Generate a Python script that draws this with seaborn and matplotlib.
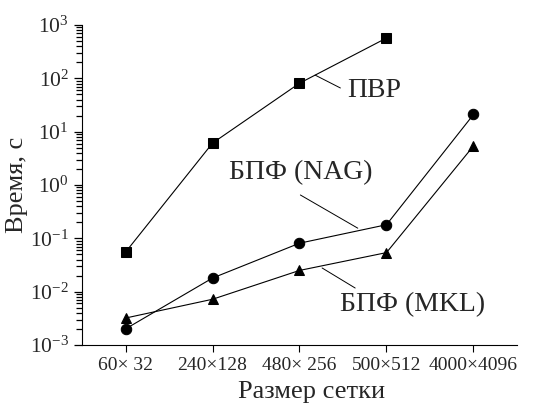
import matplotlib
matplotlib.use("Agg")
import matplotlib.pyplot as plt
from matplotlib.ticker import NullFormatter
import pandas as pd
import seaborn as sns

grid_sizes = ["60× 32", "240×128", "480× 256", "500×512", "4000×4096"]
pvr_time = [0.055, 6.1, 81, 570]
nag_time = [0.002, 0.018, 0.081, 0.18, 21]
mkl_time = [0.0032, 0.0072, 0.025, 0.054, 5.4]

rows = []
for name, vals in [("ПВР", pvr_time), ("БПФ (NAG)", nag_time), ("БПФ (MKL)", mkl_time)]:
    for i, v in enumerate(vals):
        rows.append({"pos": i, "time": v, "method": name})
df = pd.DataFrame(rows)

sns.set_theme(style="ticks")
plt.rcParams["font.family"] = ["Liberation Serif", "DejaVu Serif"]
plt.rcParams["mathtext.fontset"] = "custom"
plt.rcParams["mathtext.rm"] = "Liberation Serif"
plt.rcParams["mathtext.default"] = "regular"

fig = plt.figure(figsize=(5.41, 4.15), dpi=100)
ax = fig.add_axes([0.1516, 0.1687, 0.804, 0.771])

sns.lineplot(data=df, x="pos", y="time", style="method",
             markers={"ПВР": "s", "БПФ (NAG)": "o", "БПФ (MKL)": "^"},
             dashes=False, color="black", linewidth=0.8, markersize=7.5,
             markeredgecolor="black", legend=False, ax=ax)

ax.spines["top"].set_visible(False)
ax.spines["right"].set_visible(False)
for s in ["left", "bottom"]:
    ax.spines[s].set_color("black")
    ax.spines[s].set_linewidth(0.8)

ax.set_yscale("log")
ax.set_ylim(1e-3, 1e3)
ax.set_xlim(-0.5, 4.5)
minor_pos = [m * 10.0 ** e for e in range(-3, 3) for m in range(2, 10)]
ax.set_yticks(minor_pos, minor=True)
ax.yaxis.set_minor_formatter(NullFormatter())
ax.set_xticks(range(len(grid_sizes)))
ax.set_xticklabels(grid_sizes)
ax.tick_params(axis="x", labelsize=14)
ax.tick_params(axis="y", labelsize=15.5)
ax.tick_params(axis="both", which="both", direction="out", color="black")
ax.tick_params(axis="y", which="major", length=6, width=0.9)
ax.tick_params(axis="y", which="minor", left=True, length=4.5, width=0.9)
ax.tick_params(axis="x", which="major", length=5, width=0.8)

ax.set_xlabel("Размер сетки", fontsize=19, labelpad=5)
ax.xaxis.label.set_x(0.527)
ax.set_ylabel("Время, с", fontsize=19, labelpad=1)

# series labels with leader lines
ax.plot([2.18, 2.47], [115, 66], color="black", lw=0.7)
ax.text(2.55, 60, "ПВР", fontsize=20, va="center", ha="left")
ax.plot([2.01, 2.67], [0.65, 0.155], color="black", lw=0.7)
ax.text(2.01, 1.68, "БПФ (NAG)", fontsize=20, va="center", ha="center")
ax.plot([2.26, 2.64], [0.0278, 0.0117], color="black", lw=0.7)
ax.text(2.47, 0.0056, "БПФ (MKL)", fontsize=20, va="center", ha="left")

fig.savefig("out.png", dpi=100)
